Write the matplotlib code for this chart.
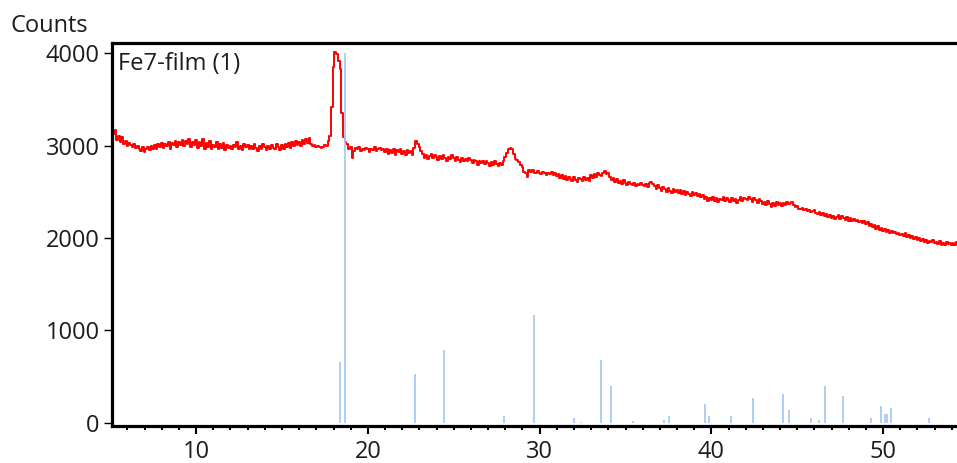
import numpy as np
import matplotlib
matplotlib.use('Agg')
import matplotlib.pyplot as plt
from matplotlib.ticker import MultipleLocator

plt.rcParams['font.family'] = ['Open Sans', 'DejaVu Sans']

# measured pattern, 2theta from 5.1 in steps of 0.1
start_angle = 5.1
step = 0.1
counts = [
    3080, 3130, 3170, 3060, 3110, 3040, 3090, 3020, 3050, 3000,
    3030, 3010, 2990, 3020, 2980, 3000, 2960, 2940, 2990, 2930,
    2960, 2990, 2950, 3000, 2970, 3010, 2960, 3020, 2990, 3030,
    2980, 3020, 3000, 3040, 2970, 3030, 3010, 3050, 2990, 3040,
    3010, 3060, 3000, 3050, 3020, 3070, 2990, 3040, 3010, 3060,
    2980, 3040, 3000, 3070, 2960, 3030, 2990, 3050, 2970, 3010,
    2990, 3040, 2960, 3020, 2980, 3030, 2950, 3010, 2980, 3000,
    2960, 3010, 2990, 3040, 2970, 3000, 2950, 3020, 2990, 3010,
    2970, 3000, 2960, 3020, 2980, 2940, 3000, 2970, 3020, 2990,
    2950, 3000, 2970, 3010, 2980, 2960, 3020, 2990, 2950, 3010,
    2970, 3020, 2990, 3030, 2980, 3040, 3000, 3050, 3010, 3040,
    3000, 3060, 3020, 3070, 3030, 3080, 3020, 3000, 3010, 2990,
    3000, 2990, 2980, 2990, 3010, 3000, 3050, 3110, 3420, 3850,
    4020, 3990, 3920, 3830, 3360, 3090, 3040, 3020, 2960, 2990,
    2870, 2940, 2980, 2960, 2990, 2940, 2970, 2950, 2980, 2960,
    2930, 2970, 2950, 2990, 2940, 2960, 2980, 2950, 2970, 2930,
    2960, 2910, 2950, 2920, 2970, 2900, 2950, 2930, 2960, 2910,
    2940, 2900, 2950, 2920, 2940, 2900, 2980, 3050, 3020, 2990,
    2940, 2910, 2870, 2900, 2860, 2890, 2910, 2870, 2900, 2880,
    2850, 2890, 2860, 2900, 2870, 2840, 2880, 2860, 2900, 2870,
    2840, 2880, 2850, 2820, 2870, 2840, 2860, 2830, 2870, 2850,
    2810, 2850, 2830, 2790, 2840, 2810, 2830, 2800, 2840, 2810,
    2780, 2820, 2790, 2830, 2800, 2780, 2810, 2790, 2830, 2880,
    2920, 2960, 2980, 2960, 2910, 2860, 2850, 2820, 2790, 2770,
    2720, 2700, 2660, 2740, 2720, 2740, 2710, 2700, 2730, 2710,
    2690, 2720, 2700, 2680, 2710, 2690, 2720, 2680, 2700, 2670,
    2690, 2650, 2680, 2640, 2670, 2630, 2660, 2640, 2620, 2660,
    2630, 2610, 2650, 2640, 2620, 2660, 2630, 2650, 2620, 2680,
    2650, 2690, 2660, 2700, 2680, 2670, 2710, 2730, 2690, 2710,
    2660, 2630, 2650, 2610, 2640, 2600, 2620, 2590, 2630, 2600,
    2580, 2610, 2590, 2570, 2600, 2560, 2590, 2570, 2600, 2580,
    2560, 2590, 2550, 2600, 2610, 2590, 2560, 2530, 2570, 2540,
    2510, 2550, 2530, 2500, 2540, 2510, 2490, 2530, 2500, 2520,
    2490, 2520, 2480, 2510, 2470, 2500, 2480, 2460, 2500, 2470,
    2490, 2460, 2480, 2440, 2470, 2420, 2450, 2400, 2430, 2410,
    2440, 2400, 2430, 2390, 2420, 2410, 2440, 2400, 2430, 2410,
    2390, 2430, 2400, 2420, 2380, 2410, 2440, 2400, 2430, 2420,
    2410, 2440, 2420, 2390, 2430, 2410, 2380, 2420, 2400, 2370,
    2390, 2360, 2400, 2370, 2340, 2380, 2350, 2390, 2360, 2380,
    2350, 2380, 2360, 2390, 2370, 2380, 2390, 2360, 2340, 2350,
    2320, 2310, 2330, 2300, 2310, 2290, 2300, 2280, 2290, 2300,
    2270, 2260, 2280, 2250, 2270, 2240, 2260, 2230, 2250, 2220,
    2240, 2210, 2230, 2250, 2210, 2240, 2220, 2200, 2230, 2190,
    2220, 2190, 2210, 2180, 2200, 2170, 2190, 2160, 2180, 2150,
    2170, 2130, 2150, 2120, 2140, 2100, 2130, 2090, 2110, 2080,
    2100, 2070, 2090, 2060, 2080, 2050, 2070, 2040, 2060, 2030,
    2040, 2020, 2050, 2010, 2030, 2000, 2020, 1990, 2010, 1980,
    2000, 1970, 1990, 1960, 1980, 1950, 1970, 1960, 1980, 1950,
    1960, 1940, 1970, 1930, 1950, 1920, 1960, 1940, 1950, 1930,
    1950, 1920, 1960,
]

# reference pattern lines
ref_pos = [18.39, 18.66, 22.72, 24.46, 27.95, 29.70, 32.01, 32.40, 33.55, 34.13,
           35.41, 37.26, 37.51, 39.60, 39.86, 41.14, 42.40, 44.17, 44.50, 45.80,
           46.24, 46.61, 47.64, 49.29, 49.87, 50.12, 50.22, 50.45, 52.69]
ref_int = [661, 4000, 527, 788, 76, 1162, 54, 10, 683, 401,
           15, 29, 76, 203, 73, 76, 271, 314, 141, 54,
           33, 401, 293, 54, 184, 94, 94, 163, 54]

sample_name = 'Fe7-film (1)'

angle = start_angle + step * np.arange(len(counts))

fig = plt.figure(figsize=(9.57, 4.63), dpi=100)
ax = fig.add_axes([0.117, 0.080, 0.883, 0.8265])

ax.plot(angle, counts, color='#ff0000', lw=1.4, drawstyle='steps-mid', zorder=2)
ax.vlines(ref_pos, 0, ref_int, color='#a9c9f2', lw=1.3, zorder=3)

ax.set_xlim(5.1, 54.3)
ax.set_ylim(-36, 4110)

ax.xaxis.set_major_locator(MultipleLocator(10))
ax.xaxis.set_minor_locator(MultipleLocator(1))
ax.set_yticks([0, 1000, 2000, 3000, 4000])

for side in ['left', 'top', 'bottom']:
    ax.spines[side].set_linewidth(2.3)
ax.spines['right'].set_visible(False)

ax.tick_params(axis='both', which='major', direction='out', length=6, width=1,
               labelsize=17, labelcolor='#1c1c1c', pad=3)
ax.tick_params(axis='x', which='minor', direction='out', length=3, width=1.5)
ax.tick_params(axis='x', which='major', width=1.5, pad=4)

ax.text(0.007, 0.978, sample_name, transform=ax.transAxes, fontsize=17,
        color='#1c1c1c', ha='left', va='top')
fig.text(10 / 957, 1 - 26 / 463, 'Counts', fontsize=17, color='#1c1c1c',
         ha='left', va='center')

fig.savefig('out.png', dpi=100)
